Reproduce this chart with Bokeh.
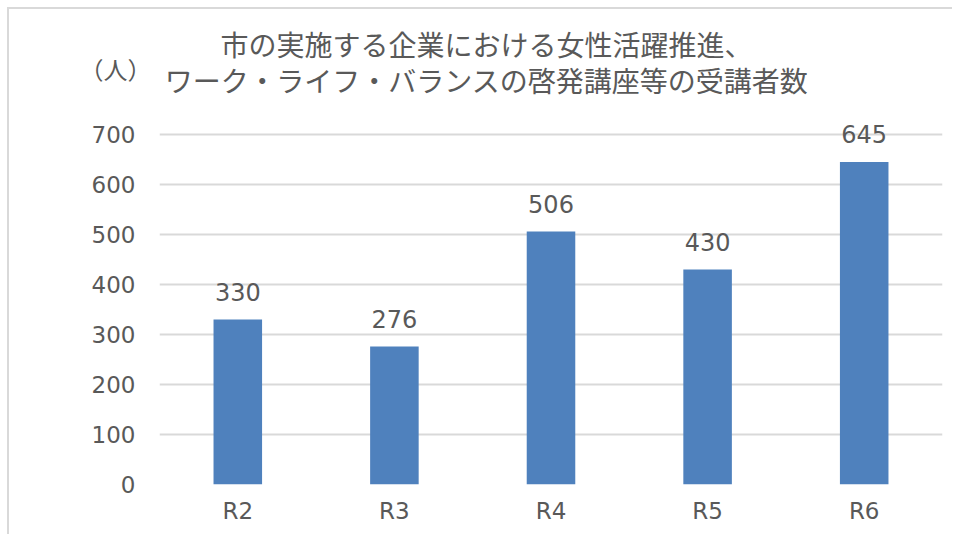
from bokeh.plotting import figure
from bokeh.models import ColumnDataSource, LabelSet, Range1d, FactorRange, SingleIntervalTicker
from bokeh.layouts import column
from bokeh.core.properties import value
from bokeh.embed import file_html
from bokeh.resources import INLINE

categories = ["R2", "R3", "R4", "R5", "R6"]
values = [330, 276, 506, 430, 645]
labels = [str(v) for v in values]
title_lines = ["市の実施する企業における女性活躍推進、", "ワーク・ライフ・バランスの啓発講座等の受講者数"]
unit_label = "（人）"

FONT = "Noto Sans CJK JP"
NUMFONT = "DejaVu Sans"
TXT = "#595959"
W = 945
HEAD_H = 100

# ---- header (title + unit) ----
h = figure(width=W, height=HEAD_H, x_range=Range1d(0, W), y_range=Range1d(HEAD_H, 0),
           output_backend="svg", toolbar_location=None,
           x_axis_location=None, y_axis_location=None,
           min_border=0, min_border_left=0, min_border_right=0, min_border_top=0, min_border_bottom=0)
h.frame_align = False
h.outline_line_color = None
h.xgrid.visible = False
h.ygrid.visible = False
h.styles = {"overflow": "hidden"}
h.text(x=[477, 477], y=[34, 70], text=title_lines, text_align="center", text_baseline="middle",
       text_font=value(FONT), text_font_size="28px", text_color=TXT)
h.text(x=[106], y=[59], text=[unit_label], text_align="center", text_baseline="middle",
       text_font=value(FONT), text_font_size="24px", text_color=TXT)

# ---- main chart ----
src = ColumnDataSource(dict(cat=categories, val=values, lab=labels))

p = figure(width=W, height=427, x_range=FactorRange(*categories), y_range=Range1d(0, 740),
           output_backend="svg", toolbar_location=None,
           min_border_left=150, min_border_right=12, min_border_top=5, min_border_bottom=52)
p.frame_align = False
p.outline_line_color = None
p.background_fill_color = "white"
p.border_fill_color = "white"
p.styles = {"overflow": "hidden"}

p.vbar(x="cat", top="val", width=0.31, source=src, fill_color="#4F81BD", line_color=None)

p.xgrid.grid_line_color = None
p.ygrid.grid_line_color = "#d9d9d9"
p.ygrid.grid_line_width = 2
p.yaxis.ticker = SingleIntervalTicker(interval=100)
for ax in (p.xaxis, p.yaxis):
    ax.axis_line_color = None
    ax.major_tick_line_color = None
    ax.minor_tick_line_color = None
    ax.major_label_text_font = NUMFONT
    ax.major_label_text_font_size = "23px"
    ax.major_label_text_color = TXT
p.yaxis.major_label_standoff = 18
p.xaxis.major_label_standoff = 7

ls = LabelSet(x="cat", y="val", text="lab", source=src, text_align="center",
              text_baseline="alphabetic", y_offset=19, text_font=value(NUMFONT),
              text_font_size=value("24px"), text_color=value(TXT))
p.add_layout(ls)

layout = column(h, p, spacing=0)
layout.styles = {"margin-left": "9px", "margin-top": "9px", "overflow": "hidden",
                 "box-shadow": "-2px -2px 0 0 #d9d9d9"}

open("out.html", "w").write(file_html(layout, INLINE))
